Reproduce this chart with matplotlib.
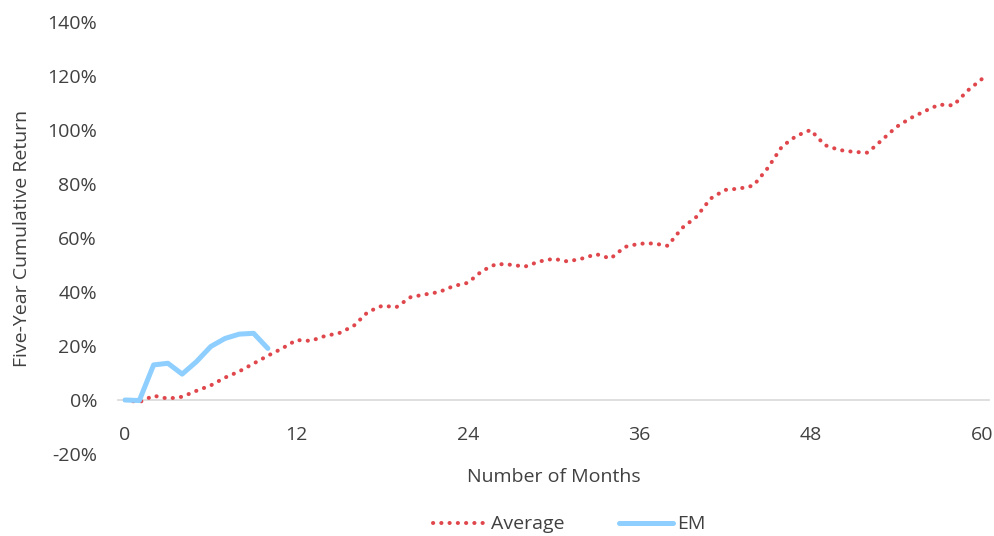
import matplotlib
matplotlib.use("Agg")
from matplotlib import pyplot as plt
from matplotlib.ticker import FuncFormatter

plt.rcParams['font.family'] = ['Open Sans', 'DejaVu Sans']

# cumulative return (%) by month
months = list(range(0, 61))
average = [0.0, -0.8, 1.6, 0.5, 1.2, 3.4, 5.4, 8.3, 10.6, 13.5, 16.4, 19.1, 22.2,
           21.9, 23.7, 24.8, 27.4, 32.6, 34.9, 34.4, 38.1, 39.1, 40.0, 42.2, 43.4,
           47.8, 50.4, 50.1, 49.4, 51.3, 52.3, 51.3, 52.4, 54.0, 52.4, 56.7, 57.9,
           58.0, 57.1, 63.7, 67.8, 74.6, 77.8, 78.3, 79.4, 85.9, 93.9, 97.8, 100.0,
           94.4, 92.6, 91.9, 91.6, 96.3, 101.1, 104.4, 107.0, 109.4, 109.1, 114.6, 118.9]
em_months = list(range(0, 11))
em = [0.0, -0.2, 13.0, 13.6, 9.6, 14.2, 19.8, 22.8, 24.4, 24.7, 19.1]

xticks = [0, 12, 24, 36, 48, 60]
yticks = [-20, 0, 20, 40, 60, 80, 100, 120, 140]

fs = 14
txt = '#404040'

fig = plt.figure(figsize=(9.95, 5.36), dpi=100)
ax = fig.add_axes([117.9 / 995, 1 - 454 / 536, (989.1 - 117.9) / 995, 432 / 536])

ax.plot(months, average, color='#E0474C', linewidth=2.9,
        linestyle=(0, (0.05, 2.0)), dash_capstyle='round', label='Average')
ax.plot(em_months, em, color='#8ECFFF', linewidth=3.6,
        solid_capstyle='round', solid_joinstyle='round', label='EM')

ax.set_xlim(-0.5, 60.5)
ax.set_ylim(-20, 140)
ax.set_xticks(xticks)
ax.set_yticks(yticks)
ax.yaxis.set_major_formatter(FuncFormatter(lambda v, p: '%d%%' % v))

for s in ['top', 'right', 'left']:
    ax.spines[s].set_visible(False)
ax.spines['bottom'].set_position(('data', 0))
ax.spines['bottom'].set_color('#D9D9D9')
ax.spines['bottom'].set_linewidth(1.2)
ax.spines['bottom'].set_zorder(0)
ax.tick_params(axis='both', length=0, labelsize=fs, labelcolor=txt)
ax.tick_params(axis='x', pad=19)
ax.tick_params(axis='y', pad=15)

ax.set_xlabel('Number of Months', fontsize=fs, color=txt)
ax.xaxis.set_label_coords(0.5, -0.033)
ax.set_ylabel('Five-Year Cumulative Return', fontsize=fs, color=txt)
ax.yaxis.set_label_coords(-0.1, 0.5)

ax.legend(loc='center', bbox_to_anchor=(0.518, -0.163), ncol=2, frameon=False,
          fontsize=fs, labelcolor=txt, handlelength=2.8,
          handletextpad=0.2, columnspacing=2.8)

fig.savefig('out.png', dpi=100)
